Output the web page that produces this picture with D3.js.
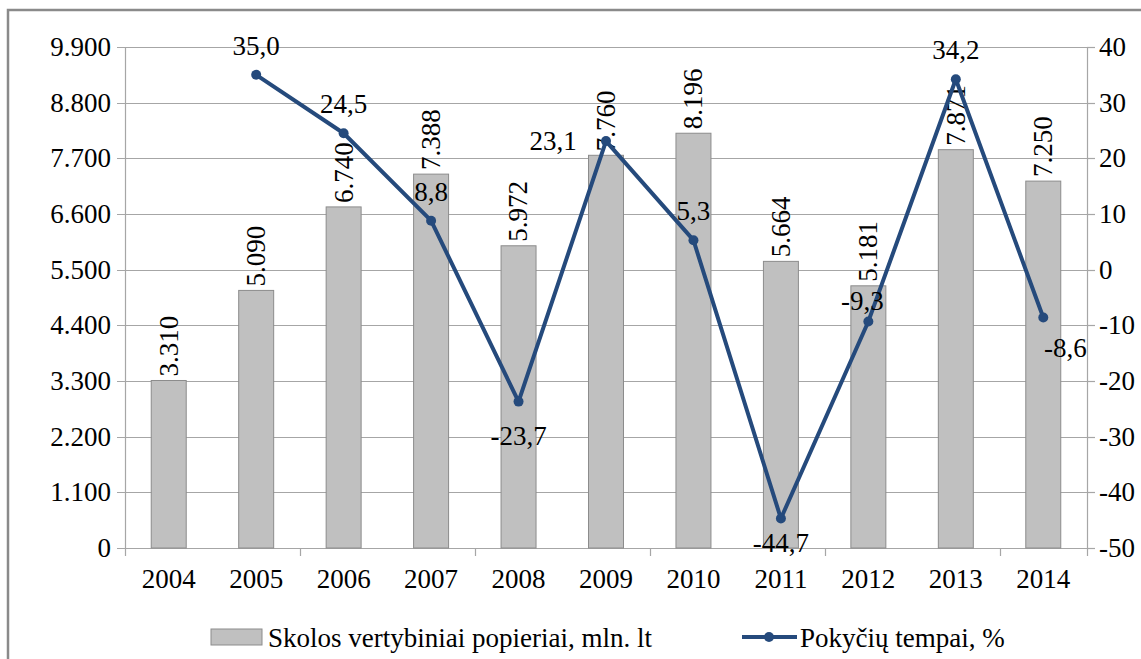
<!DOCTYPE html>
<html>
<head>
<meta charset="utf-8">
<script src="https://cdn.jsdelivr.net/npm/d3@7"></script>
<style>
  body { margin: 0; background: #fff; }
</style>
</head>
<body>
<div id="chart"></div>
<script>
var width = 1141,
  height = 659;

// data
var years = ['2004', '2005', '2006', '2007', '2008', '2009', '2010', '2011', '2012', '2013', '2014'];
var debt = [3310, 5090, 6740, 7388, 5972, 7760, 8196, 5664, 5181, 7871, 7250];
var change = [null, 35.0, 24.5, 8.8, -23.7, 23.1, 5.3, -44.7, -9.3, 34.2, -8.6];
var leftTicks = [0, 1100, 2200, 3300, 4400, 5500, 6600, 7700, 8800, 9900];
var rightTicks = [-50, -40, -30, -20, -10, 0, 10, 20, 30, 40];
var seriesNames = ['Skolos vertybiniai popieriai, mln. lt', 'Pokyčių tempai, %'];

var margin = { top: 47, right: 54, bottom: 111, left: 125 };
var w = width - margin.left - margin.right,
  h = height - margin.top - margin.bottom;

var lt = d3.formatLocale({ decimal: ',', thousands: '.', grouping: [3], currency: ['', ''], minus: '-' });
var fmtThousand = lt.format(',d');
var fmtPct = lt.format('.1f');

var blue = '#254a7c';
var grid = '#a6a6a6';
var fs = '27px';
var font = "'Liberation Serif', 'Times New Roman', 'DejaVu Serif', serif";

var svg = d3.select('#chart')
  .append('svg')
  .attr('width', width)
  .attr('height', height)
  .style('font-family', font);

// outer frame (right/bottom edges fall outside the picture)
svg.append('rect')
  .attr('x', 8)
  .attr('y', 10)
  .attr('width', width + 20)
  .attr('height', height + 20)
  .attr('fill', 'none')
  .attr('stroke', '#8a8a8a')
  .attr('stroke-width', 2.5);

var g = svg.append('g')
  .attr('transform', 'translate(' + margin.left + ',' + margin.top + ')');

var x = d3.scaleBand()
  .domain(years)
  .range([0, w]);

var y = d3.scaleLinear()
  .domain([0, 9900])
  .range([h, 0]);

var y2 = d3.scaleLinear()
  .domain([-50, 40])
  .range([h, 0]);

// gridlines
g.append('g')
  .selectAll('line')
  .data(leftTicks)
  .enter()
  .append('line')
  .attr('x1', -8)
  .attr('x2', w)
  .attr('y1', function (d) { return Math.round(y(d)) + 0.5; })
  .attr('y2', function (d) { return Math.round(y(d)) + 0.5; })
  .attr('stroke', grid)
  .attr('stroke-width', 1.2);

// right ticks
g.append('g')
  .selectAll('line')
  .data(rightTicks)
  .enter()
  .append('line')
  .attr('x1', w)
  .attr('x2', w + 8)
  .attr('y1', function (d) { return Math.round(y2(d)) + 0.5; })
  .attr('y2', function (d) { return Math.round(y2(d)) + 0.5; })
  .attr('stroke', grid)
  .attr('stroke-width', 1.2);

// axis lines
g.append('line')
  .attr('x1', 0.5).attr('x2', 0.5)
  .attr('y1', 0).attr('y2', h)
  .attr('stroke', grid).attr('stroke-width', 1.2);
g.append('line')
  .attr('x1', w + 0.5).attr('x2', w + 0.5)
  .attr('y1', 0).attr('y2', h)
  .attr('stroke', grid).attr('stroke-width', 1.2);

// x ticks every second category
var xTickIdx = [0, 2, 4, 6, 8, 10, 11];
g.append('g')
  .selectAll('line')
  .data(xTickIdx)
  .enter()
  .append('line')
  .attr('x1', function (i) { return Math.round(i * x.step()) + 0.5; })
  .attr('x2', function (i) { return Math.round(i * x.step()) + 0.5; })
  .attr('y1', h)
  .attr('y2', h + 8)
  .attr('stroke', grid)
  .attr('stroke-width', 1.2);

// left tick labels
g.append('g')
  .selectAll('text')
  .data(leftTicks)
  .enter()
  .append('text')
  .attr('x', -14)
  .attr('y', function (d) { return y(d); })
  .attr('dy', '0.33em')
  .attr('text-anchor', 'end')
  .style('font-size', fs)
  .text(function (d) { return fmtThousand(d); });

// right tick labels
g.append('g')
  .selectAll('text')
  .data(rightTicks)
  .enter()
  .append('text')
  .attr('x', w + 12)
  .attr('y', function (d) { return y2(d); })
  .attr('dy', '0.33em')
  .attr('text-anchor', 'start')
  .style('font-size', fs)
  .text(function (d) { return d; });

// x labels
g.append('g')
  .selectAll('text')
  .data(years)
  .enter()
  .append('text')
  .attr('x', function (d) { return x(d) + x.bandwidth() / 2; })
  .attr('y', h + 40)
  .attr('text-anchor', 'middle')
  .style('font-size', fs)
  .text(function (d) { return d; });

// bars
var bw = x.step() / 2.5;
g.append('g')
  .selectAll('rect')
  .data(debt)
  .enter()
  .append('rect')
  .attr('x', function (d, i) { return x(years[i]) + (x.step() - bw) / 2; })
  .attr('y', function (d) { return y(d); })
  .attr('width', bw)
  .attr('height', function (d) { return h - y(d); })
  .attr('fill', '#c0c0c0')
  .attr('stroke', '#8c8c8c')
  .attr('stroke-width', 1);

// bar labels (rotated)
g.append('g')
  .selectAll('text')
  .data(debt)
  .enter()
  .append('text')
  .attr('transform', function (d, i) {
    return 'translate(' + (x(years[i]) + x.step() / 2) + ',' + (y(d) - 4) + ') rotate(-90)';
  })
  .attr('dy', '0.33em')
  .attr('text-anchor', 'start')
  .style('font-size', fs)
  .text(function (d) { return fmtThousand(d); });

// line
var pts = change.map(function (v, i) { return { v: v, i: i }; })
  .filter(function (d) { return d.v !== null; });

var line = d3.line()
  .x(function (d) { return x(years[d.i]) + x.step() / 2; })
  .y(function (d) { return y2(d.v); });

g.append('path')
  .datum(pts)
  .attr('d', line)
  .attr('fill', 'none')
  .attr('stroke', blue)
  .attr('stroke-width', 4)
  .attr('stroke-linejoin', 'round');

g.append('g')
  .selectAll('circle')
  .data(pts)
  .enter()
  .append('circle')
  .attr('cx', function (d) { return x(years[d.i]) + x.step() / 2; })
  .attr('cy', function (d) { return y2(d.v); })
  .attr('r', 5)
  .attr('fill', blue);

// line labels; placement per year
var place = { '2008': [0, 43], '2009': [-53, 9], '2011': [0, 34], '2012': [-6, -11], '2014': [22, 39] };
g.append('g')
  .selectAll('text')
  .data(pts)
  .enter()
  .append('text')
  .attr('x', function (d) {
    var p = place[years[d.i]] || [0, -20];
    return x(years[d.i]) + x.step() / 2 + p[0];
  })
  .attr('y', function (d) {
    var p = place[years[d.i]] || [0, -20];
    return y2(d.v) + p[1];
  })
  .attr('text-anchor', 'middle')
  .style('font-size', fs)
  .text(function (d) { return fmtPct(d.v); });

// legend
var lg = svg.append('g');
lg.append('rect')
  .attr('x', 211).attr('y', 629)
  .attr('width', 51).attr('height', 16)
  .attr('fill', '#c0c0c0')
  .attr('stroke', '#8c8c8c');
lg.append('text')
  .attr('x', 268).attr('y', 647)
  .style('font-size', fs)
  .text(seriesNames[0]);
lg.append('line')
  .attr('x1', 742).attr('x2', 797)
  .attr('y1', 637).attr('y2', 637)
  .attr('stroke', blue).attr('stroke-width', 4);
lg.append('circle')
  .attr('cx', 769).attr('cy', 637).attr('r', 5)
  .attr('fill', blue);
lg.append('text')
  .attr('x', 800).attr('y', 647)
  .style('font-size', fs)
  .text(seriesNames[1]);
</script>
</body>
</html>
